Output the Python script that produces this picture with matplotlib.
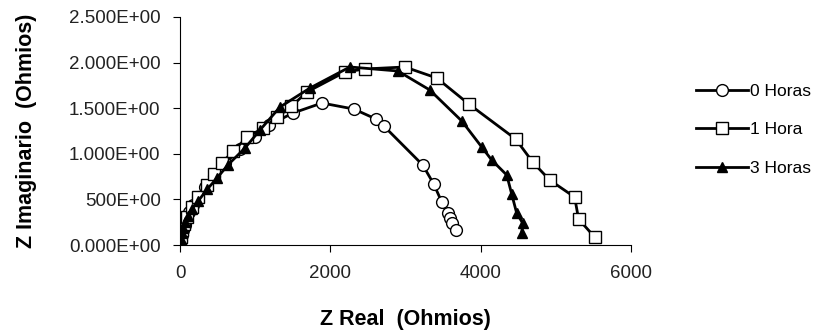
import matplotlib
matplotlib.use("Agg")
from matplotlib import pyplot as plt

plt.rcParams['font.family'] = ['Liberation Sans', 'DejaVu Sans']

# 0 Horas
x0 = [5, 12, 25, 40, 60, 85, 120, 170, 240, 330, 450, 600, 800, 1000, 1183, 1502, 1887, 2312, 2605, 2711, 3229, 3375, 3482, 3561, 3588, 3615, 3668]
y0 = [20, 60, 110, 160, 220, 280, 360, 440, 530, 640, 760, 900, 1050, 1190, 1316, 1447, 1557, 1491, 1382, 1305, 877, 669, 471, 351, 296, 241, 164]

# 1 Hora
x1 = [5, 15, 30, 55, 93, 160, 240, 359, 450, 558, 704, 890, 1100, 1289, 1480, 1688, 2193, 2458, 2990, 3415, 3841, 4465, 4691, 4917, 5249, 5302, 5515]
y1 = [30, 90, 160, 230, 307, 420, 530, 658, 780, 899, 1030, 1180, 1280, 1400, 1520, 1678, 1897, 1930, 1952, 1831, 1546, 1162, 910, 713, 526, 285, 88]

# 3 Horas
x3 = [5, 12, 25, 45, 70, 100, 160, 239, 359, 492, 638, 864, 1063, 1329, 1728, 2259, 2897, 3322, 3748, 4013, 4146, 4346, 4412, 4478, 4558, 4545]
y3 = [25, 70, 130, 190, 250, 320, 400, 480, 610, 735, 880, 1064, 1261, 1513, 1721, 1952, 1908, 1700, 1360, 1075, 932, 768, 559, 351, 241, 132]

yticks = [0, 500, 1000, 1500, 2000, 2500]
ylabels = ['0.000E+00', '500E+00', '1.000E+00', '1.500E+00', '2.000E+00', '2.500E+00']
xticks = [0, 2000, 4000, 6000]

fig = plt.figure(figsize=(8.26, 3.33), dpi=100)
ax = fig.add_axes([0.218, 0.264, 0.546, 0.685])

ax.plot(x0, y0, color='black', lw=2.0, marker='o', ms=8.5, mfc='white', mec='black', mew=1.0, label='0 Horas')
ax.plot(x1, y1, color='black', lw=2.0, marker='s', ms=8.5, mfc='white', mec='black', mew=1.0, label='1 Hora')
ax.plot(x3, y3, color='black', lw=2.0, marker='^', ms=7.5, mfc='black', mec='black', label='3 Horas')

ax.set_xlim(0, 6000)
ax.set_ylim(0, 2500)
ax.set_xticks(xticks)
ax.set_yticks(yticks)
ax.set_yticklabels(ylabels)
ax.tick_params(labelsize=13.5, length=5, color='black', labelcolor='#222222')
ax.tick_params(axis='x', pad=9)
ax.tick_params(axis='y', pad=9)
ax.spines['top'].set_visible(False)
ax.spines['right'].set_visible(False)

ax.set_xlabel('Z Real  (Ohmios)', fontsize=15.5, fontweight='bold')
ax.set_ylabel('Z Imaginario  (Ohmios)', fontsize=15.5, fontweight='bold')
ax.xaxis.set_label_coords(0.5, -0.28)
ax.yaxis.set_label_coords(-0.317, 0.5)

ax.legend(loc='center left', bbox_to_anchor=(0.832, 0.61), bbox_transform=fig.transFigure,
          frameon=False, fontsize=12.5, borderpad=0, handlelength=3.0, handletextpad=0.1,
          labelspacing=1.35)

fig.savefig('out.png', dpi=100)
